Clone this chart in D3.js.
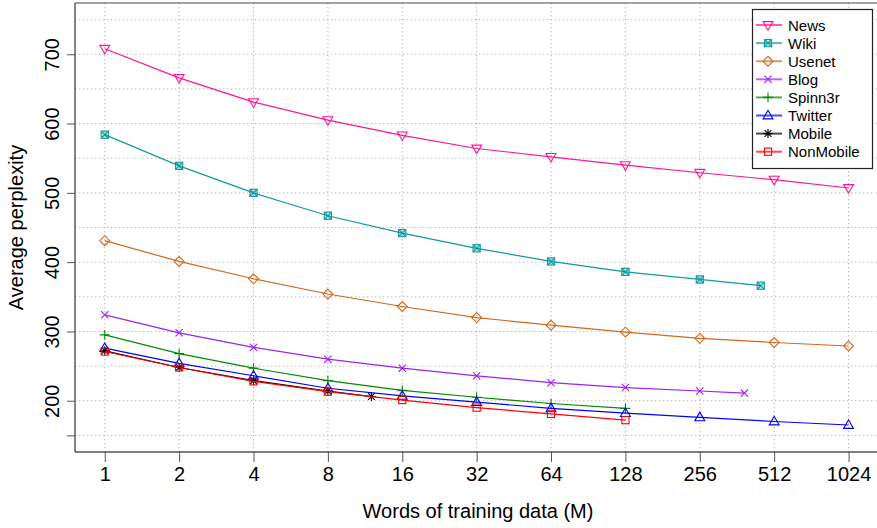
<!DOCTYPE html>
<html>
<head>
<meta charset="utf-8">
<script src="https://cdn.jsdelivr.net/npm/d3@7"></script>
<style>
    body { margin: 0; background: #fff; }
    text { font-family: "Liberation Sans", Arial, Helvetica, sans-serif; }
</style>
</head>
<body>
<div id="chart"></div>
<script>
// training sizes (millions of words)
let sizes = [1, 2, 4, 8, 16, 32, 64, 128, 256, 512, 1024];
let xTicks = [1, 2, 4, 8, 16, 32, 64, 128, 256, 512, 1024];
let yTicks = [150, 200, 300, 400, 500, 600, 700];
let yGrid = [150, 200, 250, 300, 350, 400, 450, 500, 550, 600, 650, 700, 750];

let newsX = sizes;
let newsY = [708, 666, 631, 605, 583, 564, 552, 540, 529, 519, 507];
let wikiX = [1, 2, 4, 8, 16, 32, 64, 128, 256, 452];
let wikiY = [584, 539, 500, 467, 442, 420, 401, 386, 375, 366];
let usenetX = sizes;
let usenetY = [431, 401, 376, 354, 336, 320, 309, 299, 290, 284, 279];
let blogX = [1, 2, 4, 8, 16, 32, 64, 128, 256, 388];
let blogY = [324, 298, 277, 260, 247, 236, 226, 219, 214, 211];
let spinnX = [1, 2, 4, 8, 16, 32, 64, 128];
let spinnY = [295, 268, 247, 229, 215, 205, 196, 189];
let twitterX = sizes;
let twitterY = [276, 254, 236, 218, 207, 198, 189, 182, 176, 170, 165];
let mobileX = [1, 2, 4, 8, 12];
let mobileY = [272, 248, 229, 214, 206];
let nonMobileX = [1, 2, 4, 8, 16, 32, 64, 128];
let nonMobileY = [271, 248, 228, 213, 201, 190, 181, 172];

let seriesNames = ['News', 'Wiki', 'Usenet', 'Blog', 'Spinn3r', 'Twitter', 'Mobile', 'NonMobile'];
let seriesColors = ['#ff1493', '#119a9a', '#d2691e', '#a020f0', '#008b00', '#0000ff', '#000000', '#ff0000'];
let seriesShapes = ['triDown', 'boxX', 'diamond', 'cross', 'plus', 'triUp', 'star', 'square'];

let series = [
    [newsX, newsY], [wikiX, wikiY], [usenetX, usenetY], [blogX, blogY],
    [spinnX, spinnY], [twitterX, twitterY], [mobileX, mobileY], [nonMobileX, nonMobileY]
].map((p, i) => ({
    name: seriesNames[i],
    color: seriesColors[i],
    shape: seriesShapes[i],
    points: p[0].map((x, j) => ({ x: x, y: p[1][j] }))
}));

let W = 877, H = 528;
let plotLeft = 75, plotTop = 3, plotBottom = 452, plotRight = 878.3;

// R pads the axis range by 4% on each side
let x = d3.scaleLog().base(2)
    .domain([Math.pow(2, -0.4), Math.pow(2, 10.4)])
    .range([plotLeft, plotRight]);
let y = d3.scaleLinear()
    .domain([126, 774])
    .range([plotBottom, plotTop]);

let svg = d3.select('#chart')
    .append('svg')
    .attr('width', W)
    .attr('height', H);

// dotted grid
svg.append('g')
    .selectAll('line')
    .data(xTicks)
    .enter()
    .append('line')
    .attr('x1', d => x(d)).attr('x2', d => x(d))
    .attr('y1', plotTop).attr('y2', plotBottom)
    .attr('stroke', '#b4b4b4')
    .attr('stroke-dasharray', '1.3,2.7');
svg.append('g')
    .selectAll('line')
    .data(yGrid)
    .enter()
    .append('line')
    .attr('x1', plotLeft).attr('x2', W)
    .attr('y1', d => y(d)).attr('y2', d => y(d))
    .attr('stroke', '#b4b4b4')
    .attr('stroke-dasharray', '1.3,2.7');

// frame
svg.append('line').attr('x1', plotLeft).attr('x2', W).attr('y1', plotTop).attr('y2', plotTop)
    .attr('stroke', '#444').attr('stroke-width', 1);
svg.append('line').attr('x1', plotLeft).attr('x2', plotLeft).attr('y1', plotTop).attr('y2', plotBottom)
    .attr('stroke', '#333').attr('stroke-width', 1.2);
svg.append('line').attr('x1', plotLeft).attr('x2', W).attr('y1', plotBottom).attr('y2', plotBottom)
    .attr('stroke', '#000').attr('stroke-width', 1.2);

// x axis
let xAxis = svg.append('g').attr('transform', `translate(0,${plotBottom})`)
    .call(d3.axisBottom(x).tickValues(xTicks).tickSize(10).tickSizeOuter(0).tickFormat(d3.format('d')));
xAxis.select('.domain').remove();
xAxis.selectAll('.tick line').attr('stroke', '#555');
xAxis.selectAll('.tick text')
    .attr('y', 15)
    .attr('fill', '#000')
    .style('font-size', '20px');

// y axis, R style rotated labels; 150 only gets a tick
let yAxis = svg.append('g').attr('transform', `translate(${plotLeft},0)`)
    .call(d3.axisLeft(y).tickValues(yTicks).tickSize(8).tickSizeOuter(0)
        .tickFormat(d => d === 150 ? '' : d));
yAxis.select('.domain').remove();
yAxis.selectAll('.tick line').attr('stroke', '#555');
yAxis.selectAll('.tick text')
    .attr('x', 0).attr('dy', 0)
    .attr('text-anchor', 'middle')
    .attr('transform', 'translate(-16,0) rotate(-90)')
    .attr('fill', '#000')
    .style('font-size', '20px');

// axis titles
svg.append('text')
    .attr('x', (plotLeft + W) / 2 + 2).attr('y', 518)
    .attr('text-anchor', 'middle')
    .style('font-size', '20px')
    .text('Words of training data (M)');
svg.append('text')
    .attr('transform', `translate(23,${(plotTop + plotBottom) / 2}) rotate(-90)`)
    .attr('text-anchor', 'middle')
    .style('font-size', '20px')
    .text('Average perplexity');

// marker drawing, one branch per plotting symbol
function drawMarker(g, shape, color, s) {
    let h = s / 2;
    let stroke = { fill: 'none', stroke: color, 'stroke-width': 1.1 };
    let add = (tag, attrs) => {
        let el = g.append(tag);
        Object.entries(Object.assign({}, stroke, attrs)).forEach(([k, v]) => el.attr(k, v));
        return el;
    };
    if (shape === 'triDown') add('path', { d: `M${-h * 1.1},${-h * 0.75}L${h * 1.1},${-h * 0.75}L0,${h * 1.15}Z` });
    if (shape === 'triUp') add('path', { d: `M${-h * 1.1},${h * 0.75}L${h * 1.1},${h * 0.75}L0,${-h * 1.15}Z` });
    if (shape === 'square') add('rect', { x: -h * 0.8, y: -h * 0.8, width: h * 1.6, height: h * 1.6 });
    if (shape === 'boxX') {
        add('rect', { x: -h * 0.8, y: -h * 0.8, width: h * 1.6, height: h * 1.6, fill: color, 'fill-opacity': 0.25 });
        add('path', { d: `M${-h * 0.8},${-h * 0.8}L${h * 0.8},${h * 0.8}M${-h * 0.8},${h * 0.8}L${h * 0.8},${-h * 0.8}` });
    }
    if (shape === 'diamond') add('path', { d: `M0,${-h * 1.1}L${h * 1.1},0L0,${h * 1.1}L${-h * 1.1},0Z` });
    if (shape === 'cross') add('path', { d: `M${-h * 0.8},${-h * 0.8}L${h * 0.8},${h * 0.8}M${-h * 0.8},${h * 0.8}L${h * 0.8},${-h * 0.8}` });
    if (shape === 'plus') add('path', { d: `M${-h * 1.1},0L${h * 1.1},0M0,${-h * 1.1}L0,${h * 1.1}` });
    if (shape === 'star') add('path', {
        d: `M${-h},0L${h},0M0,${-h}L0,${h}M${-h * 0.75},${-h * 0.75}L${h * 0.75},${h * 0.75}M${-h * 0.75},${h * 0.75}L${h * 0.75},${-h * 0.75}`
    });
}

let line = d3.line().x(d => x(d.x)).y(d => y(d.y));

// one group per series: line then markers
let groups = svg.selectAll('g.series')
    .data(series)
    .enter()
    .append('g')
    .attr('class', 'series');

groups.append('path')
    .attr('d', d => line(d.points))
    .attr('fill', 'none')
    .attr('stroke', d => d.color)
    .attr('stroke-width', 1.2);

groups.each(function (s) {
    d3.select(this).selectAll('g.pt')
        .data(s.points)
        .enter()
        .append('g')
        .attr('class', 'pt')
        .attr('transform', d => `translate(${x(d.x)},${y(d.y)})`)
        .each(function () { drawMarker(d3.select(this), s.shape, s.color, 9); });
});

// legend box
let legend = svg.append('g');
legend.append('rect')
    .attr('x', 752.5).attr('y', 9.5)
    .attr('width', 120).attr('height', 159)
    .attr('fill', '#fff')
    .attr('stroke', '#222')
    .attr('stroke-width', 1.2);

let rows = legend.selectAll('g.row')
    .data(series)
    .enter()
    .append('g')
    .attr('class', 'row')
    .attr('transform', (d, i) => `translate(0,${25 + i * 18.1})`);

rows.append('line')
    .attr('x1', 756).attr('x2', 782)
    .attr('stroke', d => d.color)
    .attr('stroke-opacity', 0.7)
    .attr('stroke-width', 2);
rows.append('g')
    .attr('transform', 'translate(768,0)')
    .each(function (d) { drawMarker(d3.select(this), d.shape, d.color, 9); });
rows.append('text')
    .attr('x', 788).attr('y', 5.5)
    .style('font-size', '15px')
    .text(d => d.name);
</script>
</body>
</html>
